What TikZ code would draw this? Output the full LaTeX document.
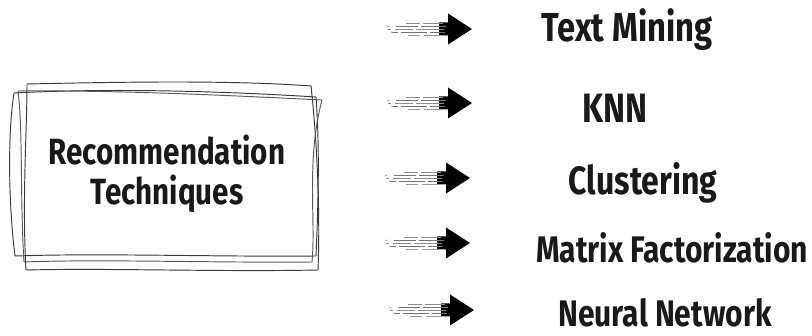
\documentclass[tikz,border=0pt]{standalone}
\usepackage{fontspec}
\setmainfont{Fira Sans}
\newfontfamily\labelfont{Fira Sans}[FakeStretch=0.81]
\usetikzlibrary{calc}

\newcommand{\labelsize}[1]{\labelfont\bfseries\fontsize{#1}{#1}\selectfont}

\tikzset{
  label text/.style={text=black!90, inner sep=0pt, anchor=base},
  sketch line/.style={draw=black!78, line width=0.95pt, line join=round, line cap=round},
  streak/.style={draw=black!45, line width=1.6pt},
  pics/speedarrow/.style={code={
    % solid head and stub of the shaft
    \fill[black] (-33,-6.5) -- (-24,-6.5) -- (-24,-15.5) -- (0,0) -- (-24,15.5) -- (-24,6.5) -- (-33,6.5) -- cycle;
    % motion streaks trailing behind the arrow
    \draw[streak, dash pattern=on 14pt off 3pt on 20pt off 4pt] (-66,-5.5) -- (-28,-5.5);
    \draw[streak, black!55, dash pattern=on 22pt off 3pt on 30pt off 2pt] (-76,-2.5) -- (-26,-2.5);
    \draw[streak, dash pattern=on 3pt off 4pt on 18pt off 3pt on 30pt off 2pt] (-84,0.5) -- (-28,0.5);
    \draw[streak, black!55, dash pattern=on 6pt off 3pt on 26pt off 3pt on 20pt off 2pt] (-80,3.5) -- (-27,3.5);
    \draw[streak, black!40, dash pattern=on 12pt off 4pt on 16pt off 3pt] (-64,6.5) -- (-30,6.5);
    \fill[black!35] (-84,-2.6) circle (0.9pt) (-80,3.2) circle (0.9pt);
  }}
}

\begin{document}
\begin{tikzpicture}[x=1pt,y=-1pt]
\useasboundingbox (0,0) rectangle (812,336);

% hand-drawn frame around the central topic
\node[inner sep=0pt, minimum width=290pt, minimum height=170pt] (topic) at (166,177) {};
\draw[sketch line] (14,93) .. controls (110,88) and (220,91) .. (316,97)
  .. controls (320,150) and (318,210) .. (316,256)
  .. controls (220,257) and (100,253) .. (15,256)
  .. controls (8,200) and (8,130) .. (14,93);
\draw[sketch line] (27,84) .. controls (120,82) and (230,80) .. (311,86)
  .. controls (318,150) and (320,220) .. (318,270)
  .. controls (220,272) and (110,268) .. (26,270)
  .. controls (22,200) and (27,130) .. (27,84);
\draw[sketch line, black!65] (18,91) .. controls (120,90) and (240,96) .. (322,100)
  .. controls (306,160) and (316,220) .. (312,262)
  .. controls (220,263) and (100,259) .. (24,262)
  .. controls (20,200) and (23,130) .. (18,91);

\node[label text, align=center, anchor=center, font=\labelsize{36.5}] (title) at (167,174) {Recommendation\\[4pt]Techniques};

% technique labels
\node[label text, font=\labelsize{40.5}] (tm) at (627,42) {Text Mining};
\node[label text, font=\labelsize{41}] (knn) at (615,123) {KNN};
\node[label text, font=\labelsize{39.5}] (cl) at (643,195) {Clustering};
\node[label text, font=\labelsize{37}] (mf) at (672,263) {Matrix Factorization};
\node[label text, font=\labelsize{37}] (nn) at (665,327) {Neural Network};

% arrows leading to each label
\coordinate (a1) at (472,29);
\coordinate (a2) at (472,103);
\coordinate (a3) at (470,178);
\coordinate (a4) at (470,243);
\coordinate (a5) at (474,310);
\foreach \c in {a1,a2,a3,a4,a5} \pic at (\c) {speedarrow};
\end{tikzpicture}
\end{document}
